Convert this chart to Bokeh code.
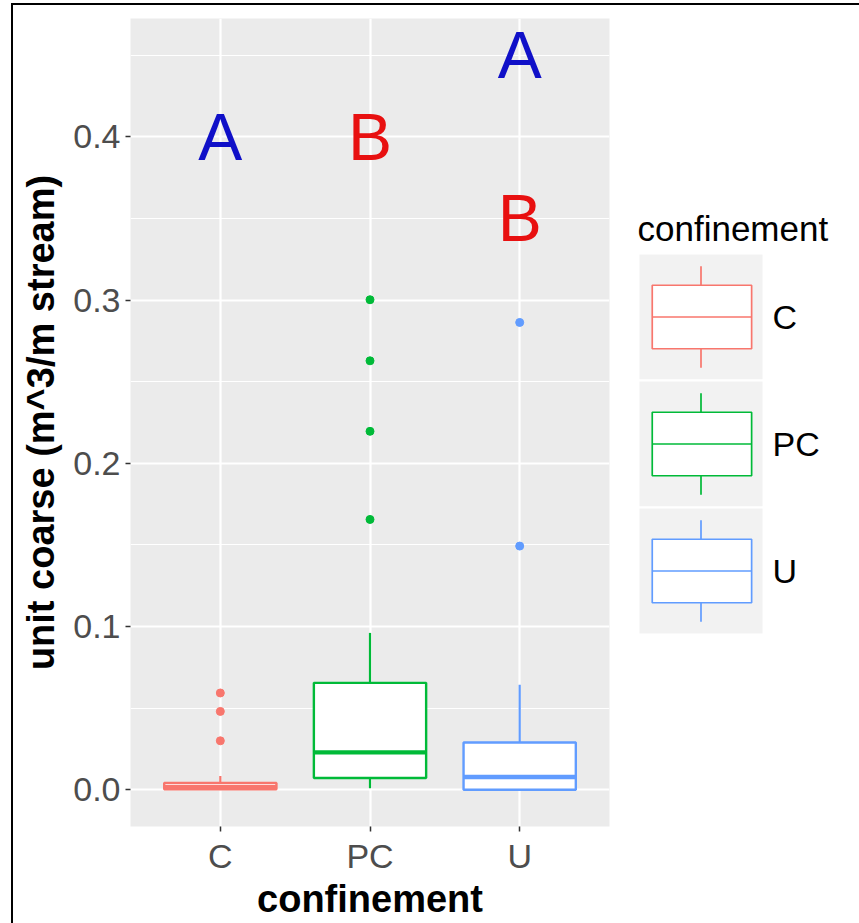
from bokeh.plotting import figure
from bokeh.models import Range1d, FixedTicker, NumeralTickFormatter
from bokeh.layouts import row
from bokeh.embed import file_html
from bokeh.resources import INLINE
from bokeh.core.properties import value

# Boxplot summaries of unit coarse wood volume by confinement class
groups = ["C", "PC", "U"]
group_colors = ["#F8766D", "#00BA38", "#619CFF"]
lower_whisker = [0.0, 0.001, 0.0]
q1 = [0.0003, 0.0072, 0.0]
median = [0.0018, 0.0229, 0.0078]
q3 = [0.0042, 0.0655, 0.029]
upper_whisker = [0.0085, 0.0961, 0.0644]

# Points beyond the whiskers
outlier_group = ["C", "C", "C", "PC", "PC", "PC", "PC", "U", "U"]
outlier_value = [0.0593, 0.048, 0.030, 0.3002, 0.2628, 0.2196, 0.1656, 0.2863, 0.1493]

# Significance letters
letter_group = ["C", "PC", "U", "U"]
letter_y = [0.40, 0.40, 0.45, 0.35]
letter_text = ["A", "B", "A", "B"]
letter_color = ["#1010C8", "#E81010", "#1010C8", "#E81010"]

y_ticks = [0.0, 0.1, 0.2, 0.3, 0.4]
y_minor = [0.05, 0.15, 0.25, 0.35, 0.45]

FONT = "Liberation Sans"
BOX_WIDTH = 0.75
BORDER_TOP, BORDER_BOTTOM = 13, 97
FIG_H = 918

pos = {g: i + 1 for i, g in enumerate(groups)}
x = [pos[g] for g in groups]
color_of = dict(zip(groups, group_colors))

p = figure(
    width=612, height=FIG_H,
    x_range=Range1d(0.4, 3.6), y_range=Range1d(-0.0225, 0.4725),
    output_backend="svg", toolbar_location=None,
    min_border_left=117, min_border_right=16,
    min_border_top=BORDER_TOP, min_border_bottom=BORDER_BOTTOM,
    background_fill_color="#EBEBEB", border_fill_color="white", outline_line_color=None,
)

# axes
p.xaxis.ticker = FixedTicker(ticks=x)
p.xaxis.major_label_overrides = {pos[g]: g for g in groups}
p.yaxis.ticker = FixedTicker(ticks=y_ticks, minor_ticks=y_minor)
p.yaxis.formatter = NumeralTickFormatter(format="0.0")
for ax in (p.xaxis, p.yaxis):
    ax.axis_line_color = None
    ax.minor_tick_line_color = None
    ax.major_tick_in = 0
    ax.major_tick_out = 5
    ax.major_tick_line_color = "#333333"
    ax.major_tick_line_width = 1.5
    ax.major_label_text_font = FONT
    ax.major_label_text_font_size = "34px"
    ax.major_label_text_color = "#4D4D4D"
    ax.major_label_standoff = 5
    ax.axis_label_text_font = FONT
    ax.axis_label_text_font_size = "38px"
    ax.axis_label_text_font_style = "bold"
    ax.axis_label_text_color = "black"
p.xaxis.axis_label = "confinement"
p.yaxis.axis_label = "unit coarse (m^3/m stream)"
p.xaxis.axis_label_standoff = 0
p.yaxis.axis_label_standoff = 8

# grid
p.xgrid.grid_line_color = "white"
p.xgrid.grid_line_width = 2.2
p.ygrid.grid_line_color = "white"
p.ygrid.grid_line_width = 2.2
p.ygrid.minor_grid_line_color = "white"
p.ygrid.minor_grid_line_width = 1.1

# whiskers
p.segment(x0=x, y0=q3, x1=x, y1=upper_whisker, line_color=group_colors, line_width=2.2)
p.segment(x0=x, y0=q1, x1=x, y1=lower_whisker, line_color=group_colors, line_width=2.2)
# boxes
p.vbar(x=x, width=BOX_WIDTH, bottom=q1, top=q3, fill_color="white",
       line_color=group_colors, line_width=2.4)
# medians
p.segment(x0=[v - BOX_WIDTH / 2 for v in x], y0=median,
          x1=[v + BOX_WIDTH / 2 for v in x], y1=median,
          line_color=group_colors, line_width=4.4)
# outliers
p.scatter(x=[pos[g] for g in outlier_group], y=outlier_value,
          fill_color=[color_of[g] for g in outlier_group],
          line_color=[color_of[g] for g in outlier_group], size=8)
# letters
p.text(x=[pos[g] for g in letter_group], y=letter_y, text=letter_text,
       text_color=letter_color, text_font=value(FONT), text_font_size="66px",
       text_align="center", text_baseline="middle")

# legend panel; its frame lines up with the main frame (page y 18..826),
# so the ranges are given in page pixel coordinates with y growing downward
frame_top = 5 + BORDER_TOP
frame_bottom = 5 + FIG_H - BORDER_BOTTOM
leg = figure(
    width=234, height=FIG_H,
    x_range=Range1d(625, 859), y_range=Range1d(frame_bottom, frame_top),
    output_backend="svg", toolbar_location=None,
    x_axis_location=None, y_axis_location=None,
    min_border_left=0, min_border_right=0,
    min_border_top=BORDER_TOP, min_border_bottom=BORDER_BOTTOM,
    outline_line_color=None,
    background_fill_color="white", border_fill_color="white",
)
leg.grid.visible = False

key_left, key_right = 638, 763
key_top0, key_h = 253, 127
key_tops = [key_top0 + i * key_h for i in range(len(groups))]
key_w = key_right - key_left
key_cx = (key_left + key_right) / 2

leg.text(x=[637], y=[228], text=["confinement"], text_font=value(FONT),
         text_font_size="35px", text_color="black", text_baseline="middle")
leg.quad(left=key_left, right=key_right, top=key_tops,
         bottom=[t + key_h for t in key_tops],
         fill_color="#F2F2F2", line_color="white", line_width=2)
leg.segment(x0=key_cx, x1=key_cx, y0=[t + 0.1 * key_h for t in key_tops],
            y1=[t + 0.25 * key_h for t in key_tops], line_color=group_colors, line_width=1.7)
leg.segment(x0=key_cx, x1=key_cx, y0=[t + 0.75 * key_h for t in key_tops],
            y1=[t + 0.9 * key_h for t in key_tops], line_color=group_colors, line_width=1.7)
leg.quad(left=key_left + 0.11 * key_w, right=key_left + 0.905 * key_w,
         top=[t + 0.25 * key_h for t in key_tops],
         bottom=[t + 0.75 * key_h for t in key_tops],
         fill_color="white", line_color=group_colors, line_width=1.7)
leg.segment(x0=key_left + 0.11 * key_w, x1=key_left + 0.905 * key_w,
            y0=[t + 0.5 * key_h for t in key_tops], y1=[t + 0.5 * key_h for t in key_tops],
            line_color=group_colors, line_width=1.7)
leg.text(x=[772] * len(groups), y=[t + 0.5 * key_h for t in key_tops], text=groups,
         text_font=value(FONT), text_font_size="34px", text_color="black",
         text_baseline="middle")

layout = row(p, leg, styles={
    "margin-left": "11px", "margin-top": "3px",
    "border-left": "2px solid black", "border-top": "2px solid black",
})

open("out.html", "w").write(file_html(layout, INLINE))
